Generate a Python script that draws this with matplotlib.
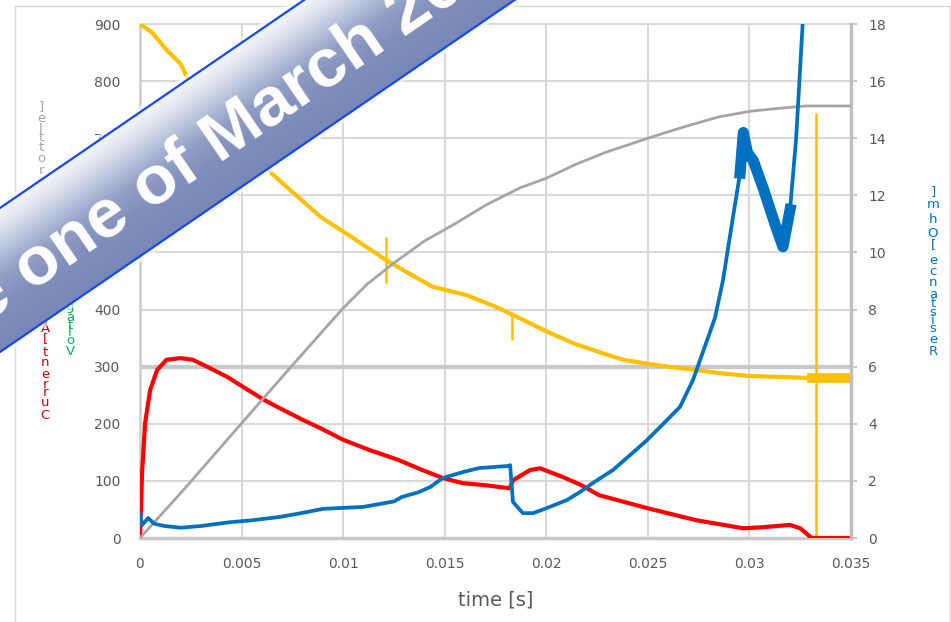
import numpy as np
import matplotlib
matplotlib.use("Agg")
import matplotlib.pyplot as plt
from matplotlib.patches import Polygon, Rectangle
from matplotlib.textpath import TextToPath
from matplotlib.font_manager import FontProperties

# ---------------- data ----------------
volt_t = [0, 0.0006, 0.0013, 0.002, 0.0023, 0.003, 0.004, 0.005, 0.0064, 0.0074,
          0.0089, 0.0105, 0.0121, 0.0133, 0.0144, 0.0161, 0.0175, 0.0184, 0.02, 0.0214,
          0.0229, 0.0238, 0.025, 0.0262, 0.0274, 0.0287, 0.0299, 0.0315, 0.0331, 0.0335, 0.035]
volt = [900, 885, 855, 830, 808, 780, 740, 698, 641, 609,
        562, 525, 487, 462, 440, 425, 405, 390, 362, 340,
        322, 312, 305, 299, 294, 288, 284, 282, 280, 280, 280]
volt_spike_t = [0.0121, 0.0183, 0.0333]
volt_spike_lo = [447, 347, 0]
volt_spike_hi = [527, 392, 745]

curr_t = [0, 0.0001, 0.00025, 0.0005, 0.00084, 0.0013, 0.002, 0.0026, 0.0033, 0.0043,
          0.0051, 0.0061, 0.0069, 0.008, 0.0089, 0.01, 0.0113, 0.0127, 0.0139, 0.0149,
          0.0159, 0.0171, 0.0182, 0.01836, 0.0192, 0.0197, 0.0208, 0.0217, 0.0226, 0.025,
          0.0274, 0.0297, 0.0307, 0.032, 0.0325, 0.033, 0.0331, 0.035]
curr = [0, 114, 201, 259, 294, 312, 315, 312, 300, 282,
        264, 242, 227, 207, 192, 172, 154, 137, 119, 105,
        96, 92, 87, 101, 119, 122, 107, 93, 75, 52,
        31, 17, 19, 23, 17, 2, 0, 0]

stroke_t = [0, 0.0021, 0.004, 0.006, 0.008, 0.01, 0.0112, 0.0125, 0.014, 0.0155,
            0.017, 0.0187, 0.02, 0.0215, 0.0229, 0.025, 0.0266, 0.0285, 0.0301, 0.0315,
            0.0328, 0.035]
stroke = [0, 1.65, 3.2, 4.83, 6.45, 8.05, 8.9, 9.63, 10.4, 11.0,
          11.65, 12.26, 12.6, 13.1, 13.5, 14.0, 14.36, 14.75, 14.95, 15.05,
          15.13, 15.13]

res_t = [0, 0.0001, 0.0004, 0.0007, 0.0012, 0.002, 0.003, 0.0044, 0.0055, 0.0069,
         0.008, 0.009, 0.011, 0.0125, 0.0129, 0.0137, 0.0143, 0.0149, 0.0159, 0.0167,
         0.0181, 0.01822, 0.01836, 0.01885, 0.01935, 0.02003, 0.02102, 0.02166, 0.0223, 0.02328,
         0.02412, 0.02496, 0.02594, 0.02658, 0.02722, 0.02757, 0.0283, 0.0287, 0.02919, 0.02954,
         0.0297, 0.0299, 0.0302, 0.0307, 0.0313, 0.03165, 0.032, 0.0323, 0.0325, 0.0327]
res = [0.85, 0.45, 0.7, 0.5, 0.42, 0.36, 0.42, 0.55, 0.62, 0.74,
       0.88, 1.02, 1.09, 1.28, 1.44, 1.6, 1.79, 2.1, 2.31, 2.45,
       2.52, 2.55, 1.26, 0.87, 0.87, 1.05, 1.33, 1.61, 1.93, 2.38,
       2.9, 3.43, 4.13, 4.59, 5.53, 6.23, 7.7, 9.03, 11.24, 12.78,
       14.2, 13.5, 13.2, 12.2, 10.9, 10.2, 11.5, 14.0, 16.5, 19.0]

threshold_level = 300

x_ticks = [0, 0.005, 0.01, 0.015, 0.02, 0.025, 0.03, 0.035]
x_ticklabels = ["0", "0.005", "0.01", "0.015", "0.02", "0.025", "0.03", "0.035"]
left_ticks = list(range(0, 901, 100))
right_ticks = list(range(0, 19, 2))

banner_text = "Picture one of March 2016"

# ---------------- figure ----------------
W, H = 951, 622
fig = plt.figure(figsize=(W / 100, H / 100), dpi=100)
fig.patch.set_facecolor("white")

ax = fig.add_axes([140 / W, (H - 538) / H, 711 / W, 514 / H])
ax2 = ax.twinx()

GRID = "#d9d9d9"
TXT = "#595959"
YEL, RED, GRAY, BLUE = "#ffc000", "#ff0000", "#a5a5a5", "#0070c0"

ax.set_xlim(0, 0.035)
ax.set_ylim(0, 900)
ax2.set_ylim(0, 18)
ax.set_xticks(x_ticks)
ax.set_xticklabels(x_ticklabels)
ax.set_yticks(left_ticks)
ax2.set_yticks(right_ticks)

ax.set_axisbelow(True)
ax.grid(True, color=GRID, lw=1.5)
ax.axhline(threshold_level, color="#c8c8c8", lw=3, zorder=1.5)

ax.tick_params(axis="y", length=0, pad=14, labelsize=10, labelcolor=TXT)
ax.tick_params(axis="x", length=0, pad=14, labelsize=10, labelcolor=TXT)
ax2.tick_params(axis="y", length=4.5, width=1.2, color="#bfbfbf", pad=8, labelsize=10, labelcolor=TXT)

ax.spines["top"].set_color(GRID)
ax.spines["top"].set_linewidth(1.5)
ax.spines["left"].set_color("#cccccc")
ax.spines["left"].set_linewidth(1.8)
ax.spines["bottom"].set_color("#c8c8c8")
ax.spines["bottom"].set_linewidth(2.5)
ax.spines["right"].set_visible(False)
for s in ["top", "left", "bottom"]:
    ax2.spines[s].set_visible(False)
ax2.spines["right"].set_color("#bfbfbf")
ax2.spines["right"].set_linewidth(2.5)

ax.set_xlabel("time [s]", fontsize=14, color=TXT, labelpad=14)

# series
vt = np.array(volt_t)
vv = np.array(volt)
ax.plot(vt, vv, color=YEL, lw=3, solid_joinstyle="round", zorder=3)
tail = vt >= 0.0331
ax.plot(vt[tail], vv[tail], color=YEL, lw=7, zorder=3)
ax.vlines(volt_spike_t, volt_spike_lo, volt_spike_hi, color=YEL, lw=1.8, zorder=3)
ax.plot(curr_t, curr, color=RED, lw=3, solid_joinstyle="round", zorder=4)

ax2.plot(stroke_t, stroke, color=GRAY, lw=2, zorder=3)
rt = np.array(res_t)
rv = np.array(res)
ax2.plot(rt, rv, color=BLUE, lw=2.7, solid_joinstyle="round", zorder=4)
band = (rt >= 0.0295) & (rt <= 0.0321)
ax2.plot(rt[band], rv[band], color=BLUE, lw=8, solid_joinstyle="round", zorder=4)

# ---------------- overlay (pixel coordinates) ----------------
ov = fig.add_axes([0, 0, 1, 1], zorder=10)
ov.set_xlim(0, W)
ov.set_ylim(H, 0)
ov.axis("off")
ov.patch.set_alpha(0)

ov.add_patch(Rectangle((15, 6), 935, 660, fill=False, edgecolor="#d9d9d9", lw=1))

ttp = TextToPath()


def stacked(text_td, x, y_top, y_bot, color, size=9.5):
    fp = FontProperties(family="DejaVu Sans", size=size)
    adv = []
    for c in text_td:
        w = ttp.get_text_width_height_descent(c, fp, ismath=False)[0]
        adv.append(max(w, size * 0.32))
    sc = (y_bot - y_top) / sum(adv)
    pos = y_top
    for c, a in zip(text_td, adv):
        ov.text(x, pos + a * sc / 2, c, color=color, fontproperties=fp,
                ha="center", va="center", zorder=5)
        pos += a * sc


stacked("]elttorhT", 41, 102, 205, "#a6a6a6")
stacked("]V[ egatloV", 70, 258, 358, "#00b050")
stacked("]A[ tnerruC", 45, 314, 422, "#cc0000")
stacked("]mhO[ ecnatsiseR", 933, 188, 358, "#0070c0")

# banner
k = 0.684
b_up, b_lo = 208.0, 352.0
ang = np.degrees(np.arctan(k))
yy, xx = np.mgrid[0:H, 0:W]
s = (yy - (b_up - k * xx)) / (b_lo - b_up)
stops = [0.0, 0.12, 0.3, 0.48, 0.7, 1.0]
cols = np.array([[0.96, 0.965, 0.98], [0.88, 0.90, 0.94], [0.72, 0.76, 0.86],
                 [0.57, 0.62, 0.77], [0.50, 0.56, 0.73], [0.47, 0.53, 0.71]])
img = np.dstack([np.interp(s, stops, cols[:, i]) for i in range(3)])

xe = -20
pts = [(xe, b_up - k * xe), (xe, b_lo - k * xe),
       ((b_lo + 20) / k, -20), ((b_up + 20) / k, -20)]
xs_line = np.array([xe, 700])
ov.plot(xs_line, b_lo - k * xs_line, color="white", lw=7, alpha=0.6, zorder=19,
        solid_capstyle="butt")
ov.plot(xs_line, b_up - k * xs_line, color="white", lw=7, alpha=0.6, zorder=19,
        solid_capstyle="butt")
poly = Polygon(pts, closed=True, facecolor="none", edgecolor="none", zorder=20)
ov.add_patch(poly)
im = ov.imshow(img, extent=(0, W, H, 0), zorder=20, interpolation="bilinear", aspect="auto")
im.set_clip_path(poly)
ov.plot(xs_line, b_lo - k * xs_line, color="#1447ff", lw=1.6, zorder=22)
ov.plot(xs_line, b_up - k * xs_line, color="#1447ff", lw=1.6, zorder=22)
ov.set_xlim(0, W)
ov.set_ylim(H, 0)

bfp = FontProperties(family="Liberation Sans", weight="bold", size=50)
pre_w = ttp.get_text_width_height_descent("Picture ", bfp, ismath=False)[0] * 100 / 72
dx, dy = np.cos(np.radians(ang)), -np.sin(np.radians(ang))
# origin of "one" on the baseline
ox = 31.0
oy = 312.5 - k * ox
ax0 = ox - pre_w * dx
ay0 = oy - pre_w * dy
ov.text(ax0, ay0, banner_text, fontproperties=bfp, color="white", rotation=ang,
        rotation_mode="anchor", ha="left", va="baseline", zorder=23)

fig.savefig("out.png", dpi=100)
